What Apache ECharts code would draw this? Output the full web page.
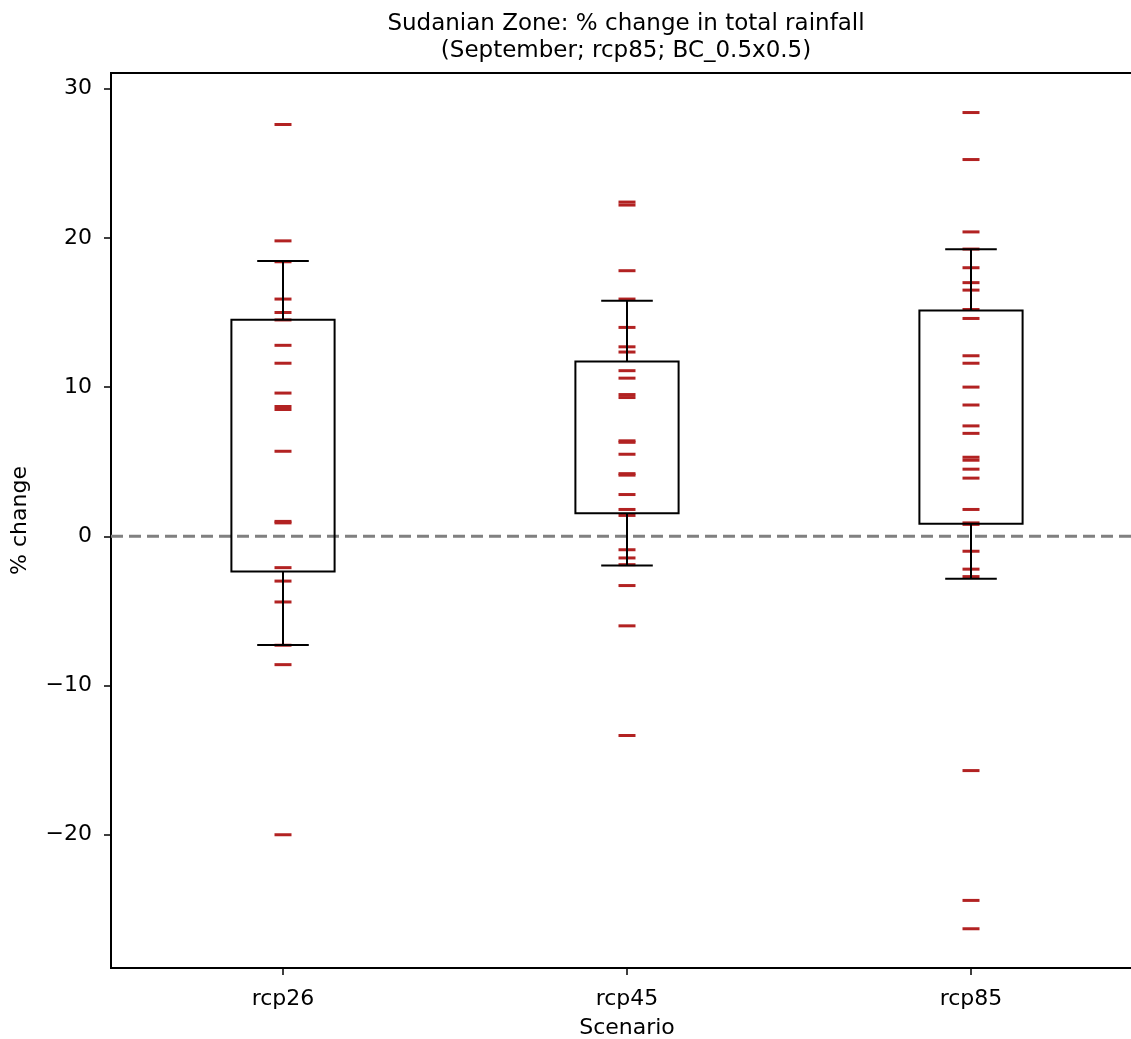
<!DOCTYPE html>
<html>
<head>
<meta charset="utf-8">
<script src="https://cdn.jsdelivr.net/npm/echarts@6/dist/echarts.min.js"></script>
<style>
html,body{margin:0;padding:0;background:#fff;}
#chart{width:1131px;height:1039px;}
</style>
</head>
<body>
<div id="chart"></div>
<script>
const categories = ['rcp26', 'rcp45', 'rcp85'];
const rcp26 = [27.6, 19.8, 18.4, 15.9, 15.0, 14.5, 12.8, 11.6, 9.6, 8.7, 8.5, 5.7, 1.0, 0.9, -2.1, -3.0, -4.4, -7.3, -8.6, -20.0];
const rcp45 = [22.4, 22.2, 17.8, 15.9, 14.0, 12.7, 12.35, 11.1, 10.6, 9.5, 9.3, 6.4, 6.3, 5.5, 4.2, 4.1, 2.8, 1.8, 1.4, -0.9, -1.45, -1.9, -3.3, -6.0, -13.35];
const rcp85 = [28.4, 25.25, 20.4, 19.25, 18.0, 17.0, 16.5, 15.2, 14.6, 12.1, 11.6, 10.0, 8.8, 7.4, 6.9, 5.3, 5.1, 4.5, 3.9, 1.8, 0.9, 0.8, -1.0, -2.2, -2.7, -15.7, -24.4, -26.3];
const boxLow = [-7.28, -1.96, -2.85];
const boxQ1 = [-2.36, 1.55, 0.84];
const boxQ3 = [14.51, 11.72, 15.14];
const boxHigh = [18.45, 15.79, 19.23];
const yTicks = [-20, -10, 0, 10, 20, 30];
const refLineValue = [0];
const titleText = 'Sudanian Zone: % change in total rainfall\n(September; rcp85; BC_0.5x0.5)';

const FONT = 'DejaVu Sans';
const chart = echarts.init(document.getElementById('chart'));

const pointSeries = [rcp26, rcp45, rcp85].map((vals, i) => ({
  type: 'scatter',
  data: vals.map(v => [categories[i], v]),
  symbol: 'rect',
  symbolSize: [17, 3],
  itemStyle: { color: '#b22222', opacity: 1 },
  z: 2,
  silent: true
}));

const boxData = categories.map((c, i) => [i, boxLow[i], boxQ1[i], boxQ3[i], boxHigh[i]]);

function renderBox(params, api) {
  const idx = api.value(0);
  const low = api.coord([idx, api.value(1)]);
  const q1 = api.coord([idx, api.value(2)]);
  const q3 = api.coord([idx, api.value(3)]);
  const high = api.coord([idx, api.value(4)]);
  const band = api.size([1, 0])[0];
  const hw = band * 0.15;
  const cw = hw / 2;
  const x = q1[0];
  const style = { stroke: '#000', lineWidth: 2, fill: null };
  return {
    type: 'group',
    children: [
      { type: 'rect', shape: { x: x - hw, y: q3[1], width: 2 * hw, height: q1[1] - q3[1] }, style: { stroke: '#000', lineWidth: 2, fill: 'rgba(0,0,0,0)' } },
      { type: 'line', shape: { x1: x, y1: q3[1], x2: x, y2: high[1] }, style: style },
      { type: 'line', shape: { x1: x, y1: q1[1], x2: x, y2: low[1] }, style: style },
      { type: 'line', shape: { x1: x - cw, y1: high[1], x2: x + cw, y2: high[1] }, style: style },
      { type: 'line', shape: { x1: x - cw, y1: low[1], x2: x + cw, y2: low[1] }, style: style }
    ]
  };
}

function renderRefLine(params, api) {
  const cs = params.coordSys;
  const p = api.coord([0, api.value(1)]);
  return {
    type: 'line',
    shape: { x1: cs.x, y1: p[1], x2: cs.x + cs.width, y2: p[1] },
    style: { stroke: '#808080', lineWidth: 3, lineDash: [12, 6], fill: null }
  };
}

const minusFmt = v => String(v).replace('-', '\u2212');

chart.setOption({
  animation: false,
  backgroundColor: '#fff',
  textStyle: { fontFamily: FONT },
  title: {
    text: titleText,
    left: 626,
    top: 11,
    padding: 0,
    textAlign: 'center',
    textStyle: { fontFamily: FONT, fontSize: 23, fontWeight: 'normal', color: '#000', lineHeight: 27, align: 'center' }
  },
  grid: { left: 111, top: 73, width: 1032, height: 895, containLabel: false, outerBoundsMode: 'none', show: true, borderColor: '#000', borderWidth: 2, backgroundColor: 'transparent' },
  xAxis: {
    type: 'category',
    data: categories,
    boundaryGap: true,
    name: 'Scenario',
    nameLocation: 'middle',
    nameGap: 49,
    nameTextStyle: { fontFamily: FONT, fontSize: 22, color: '#000' },
    axisLine: { show: true, onZero: false, lineStyle: { color: '#000', width: 2 } },
    axisTick: { show: true, alignWithLabel: true, length: 7, lineStyle: { color: '#000', width: 1.5 } },
    axisLabel: { fontFamily: FONT, fontSize: 22, color: '#000', margin: 20 },
    splitLine: { show: false }
  },
  yAxis: {
    type: 'value',
    min: -28.93,
    max: 31.05,
    name: '% change',
    nameLocation: 'middle',
    nameGap: 80,
    nameRotate: 90,
    nameTextStyle: { fontFamily: FONT, fontSize: 22, color: '#000' },
    axisLine: { show: true, onZero: false, lineStyle: { color: '#000', width: 2 } },
    axisTick: { show: true, length: 7, lineStyle: { color: '#000', width: 1.5 }, customValues: yTicks },
    axisLabel: { fontFamily: FONT, fontSize: 22, color: '#000', margin: 19, customValues: yTicks, formatter: minusFmt },
    splitLine: { show: false }
  },
  series: [
    {
      type: 'custom',
      renderItem: renderRefLine,
      data: refLineValue.map(v => [0, v]),
      encode: { x: 0, y: 1 },
      z: 1,
      silent: true,
      clip: false
    },
    ...pointSeries,
    {
      type: 'custom',
      renderItem: renderBox,
      data: boxData,
      encode: { x: 0, y: [1, 2, 3, 4] },
      z: 3,
      silent: true
    }
  ]
});
</script>
</body>
</html>
